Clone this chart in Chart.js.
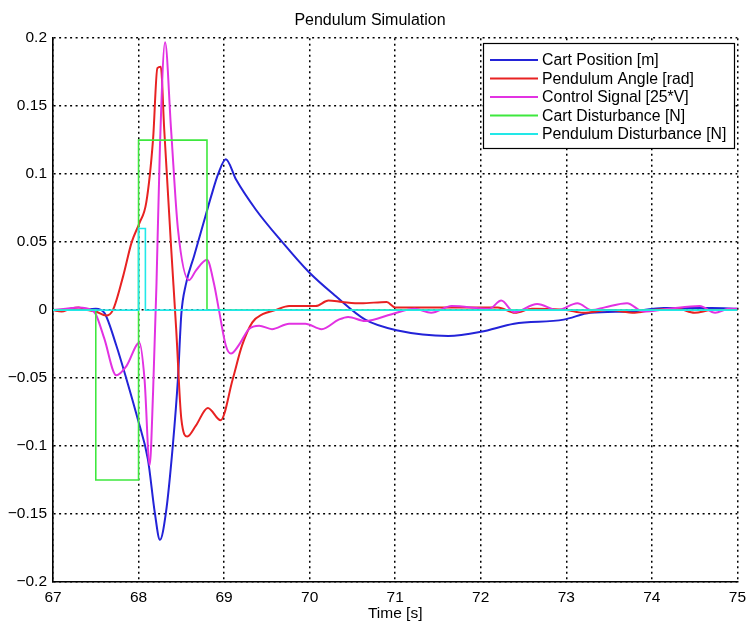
<!DOCTYPE html>
<html>
<head>
<meta charset="utf-8">
<title>Pendulum Simulation</title>
<script src="https://cdn.jsdelivr.net/npm/chart.js@4"></script>
<style>
  html, body { margin: 0; padding: 0; background: #fff; }
  canvas { display: block; }
</style>
</head>
<body>
<canvas id="grafico" width="752" height="623"></canvas>
<script>
// series names as shown in the legend
const nomes = ["Cart Position [m]", "Pendulum Angle [rad]", "Control Signal [25*V]", "Cart Disturbance [N]", "Pendulum Disturbance [N]"];
const cores = ["#2323d8", "#e82222", "#e232e2", "#3ee83e", "#22e8e8"];

// cart position
const tCarro = [67, 67.3, 67.5, 67.6, 67.74, 67.86, 67.99, 68.11, 68.19, 68.25, 68.32, 68.40, 68.46, 68.50, 68.55, 68.65, 68.75, 68.85, 68.93, 69.02, 69.14, 69.37, 69.68, 69.99, 70.30, 70.65, 71.03, 71.62, 72.0, 72.39, 72.97, 73.28, 73.75, 74.14, 74.7, 75];
const posCarro = [0, 0, 0.001, -0.002, -0.026, -0.051, -0.080, -0.110, -0.149, -0.169, -0.149, -0.100, -0.051, -0.003, 0.018, 0.040, 0.062, 0.084, 0.100, 0.111, 0.096, 0.074, 0.050, 0.028, 0.0105, -0.007, -0.015, -0.019, -0.016, -0.010, -0.007, -0.002, -0.001, 0.0015, 0.0015, 0.001];

// pendulum angle
const tPendulo = [67, 67.1, 67.2, 67.3, 67.4, 67.5, 67.62, 67.70, 67.82, 67.92, 68.01, 68.09, 68.17, 68.22, 68.26, 68.30, 68.38, 68.44, 68.50, 68.57, 68.67, 68.81, 68.96, 69.10, 69.21, 69.33, 69.45, 69.6, 69.76, 70.07, 70.22, 70.38, 70.6, 70.9, 71.0, 71.5, 72.2, 72.4, 72.6, 73.0, 73.2, 73.5, 73.8, 74.0, 74.3, 74.5, 74.7, 75];
const angPendulo = [0, -0.001, 0.001, 0.002, 0.000, -0.001, -0.004, 0, 0.025, 0.050, 0.064, 0.079, 0.126, 0.178, 0.179, 0.133, 0.047, -0.014, -0.080, -0.093, -0.085, -0.072, -0.081, -0.051, -0.026, -0.009, -0.003, 0, 0.003, 0.003, 0.007, 0.006, 0.005, 0.006, 0.002, 0.002, 0.002, -0.002, 0.001, 0, -0.002, 0, -0.002, 0, 0.001, -0.002, 0, 0];

// control signal (scaled by 25)
const tControle = [67, 67.15, 67.3, 67.45, 67.5, 67.6, 67.74, 67.86, 68.01, 68.07, 68.13, 68.17, 68.21, 68.25, 68.31, 68.38, 68.46, 68.59, 68.67, 68.80, 68.88, 68.94, 69.02, 69.08, 69.17, 69.29, 69.41, 69.56, 69.76, 69.95, 70.14, 70.34, 70.45, 70.65, 70.96, 71.23, 71.42, 71.66, 72.1, 72.24, 72.39, 72.66, 72.9, 73.13, 73.3, 73.45, 73.71, 73.9, 74.2, 74.56, 74.74, 74.9, 75];
const sinalControle = [0, 0.001, 0.002, 0.000, -0.003, -0.021, -0.048, -0.041, -0.024, -0.051, -0.114, -0.060, 0.020, 0.120, 0.197, 0.133, 0.060, 0.022, 0.029, 0.037, 0.020, 0.000, -0.026, -0.032, -0.026, -0.014, -0.0115, -0.014, -0.010, -0.010, -0.014, -0.007, -0.005, -0.008, -0.003, 0.001, -0.002, 0.003, 0.001, 0.007, -0.0015, 0.0045, 0, 0.005, 0, 0.002, 0.005, -0.001, 0.001, 0.003, -0.002, 0.001, 0.001];

// disturbances (square pulses)
const tDistCarro = [67, 67.5, 67.5, 68, 68, 68.8, 68.8, 75];
const distCarro = [0, 0, -0.125, -0.125, 0.125, 0.125, 0, 0];
const tDistPendulo = [67, 68, 68, 68.08, 68.08, 75];
const distPendulo = [0, 0, 0.06, 0.06, 0, 0];

// tick labels
const ticksX = [67, 68, 69, 70, 71, 72, 73, 74, 75];
const ticksY = [-0.2, -0.15, -0.1, -0.05, 0, 0.05, 0.1, 0.15, 0.2];

const fonte = '"Liberation Sans", Arial, Helvetica, sans-serif';

function juntar(ts, vs) {
    const pontos = [];
    for (let i = 0; i < ts.length; i++) {
        pontos.push({ x: ts[i], y: vs[i] });
    }
    return pontos;
}

function serie(i, ts, vs, suave, largura) {
    return {
        label: nomes[i],
        data: juntar(ts, vs),
        borderColor: cores[i],
        backgroundColor: cores[i],
        borderWidth: largura,
        pointRadius: 0,
        fill: false,
        cubicInterpolationMode: suave ? 'monotone' : 'default',
        tension: 0,
        order: 5 - i
    };
}

// legend box drawn inside the plot area, top right
const legendaDentro = {
    id: 'legendaDentro',
    afterDraw(chart) {
        const ctx = chart.ctx;
        const x0 = 483, y0 = 43, w = 251, h = 105;
        ctx.save();
        ctx.fillStyle = '#fff';
        ctx.fillRect(x0, y0, w, h);
        ctx.strokeStyle = '#000';
        ctx.lineWidth = 1.2;
        ctx.strokeRect(x0 + 0.5, y0 + 0.5, w, h);
        ctx.font = '15.8px ' + fonte;
        ctx.textBaseline = 'middle';
        ctx.fillStyle = '#000';
        for (let i = 0; i < nomes.length; i++) {
            const y = 60 + i * 18.5;
            ctx.strokeStyle = cores[i];
            ctx.lineWidth = 2;
            ctx.beginPath();
            ctx.moveTo(490, y);
            ctx.lineTo(538, y);
            ctx.stroke();
            ctx.fillText(nomes[i], 542, y + 1);
        }
        ctx.restore();
    }
};

new Chart(document.getElementById('grafico'), {
    type: 'line',
    data: {
        datasets: [
            serie(0, tCarro, posCarro, true, 2),
            serie(1, tPendulo, angPendulo, true, 2),
            serie(2, tControle, sinalControle, true, 2),
            serie(3, tDistCarro, distCarro, false, 1.6),
            serie(4, tDistPendulo, distPendulo, false, 1.6)
        ]
    },
    options: {
        responsive: false,
        animation: false,
        devicePixelRatio: 1,
        layout: { padding: { left: 0, right: 12, top: 0, bottom: 0 } },
        plugins: {
            legend: { display: false },
            tooltip: { enabled: false },
            title: {
                display: true,
                text: 'Pendulum Simulation',
                color: '#000',
                font: { family: fonte, size: 16, weight: 'normal' },
                padding: { top: 11, bottom: 8 }
            }
        },
        scales: {
            x: {
                type: 'linear',
                min: 67,
                max: 75,
                afterBuildTicks(escala) {
                    escala.ticks = ticksX.map(v => ({ value: v }));
                },
                afterFit(escala) { escala.height = 41; },
                ticks: {
                    color: '#000',
                    font: { family: fonte, size: 15.5 },
                    padding: 6,
                    maxRotation: 0
                },
                grid: { color: '#000', lineWidth: 1.5, drawTicks: false },
                border: { display: true, color: '#000', width: 1.6, dash: [2, 3.5] },
                title: {
                    display: true,
                    text: 'Time [s]',
                    color: '#000',
                    font: { family: fonte, size: 15.5 },
                    padding: { top: 0, bottom: 0 }
                }
            },
            y: {
                min: -0.2,
                max: 0.2,
                afterBuildTicks(escala) {
                    escala.ticks = ticksY.map(v => ({ value: v }));
                },
                afterFit(escala) { escala.width = 53; },
                ticks: {
                    color: '#000',
                    font: { family: fonte, size: 15.5 },
                    padding: 6,
                    callback(v) {
                        const s = String(Number(v.toFixed(2)));
                        return s.replace('-', '\u2212');
                    }
                },
                grid: { color: '#000', lineWidth: 1.5, drawTicks: false },
                border: { display: true, color: '#000', width: 1.6, dash: [2, 3.5] }
            }
        }
    },
    plugins: [legendaDentro]
});
</script>
</body>
</html>
